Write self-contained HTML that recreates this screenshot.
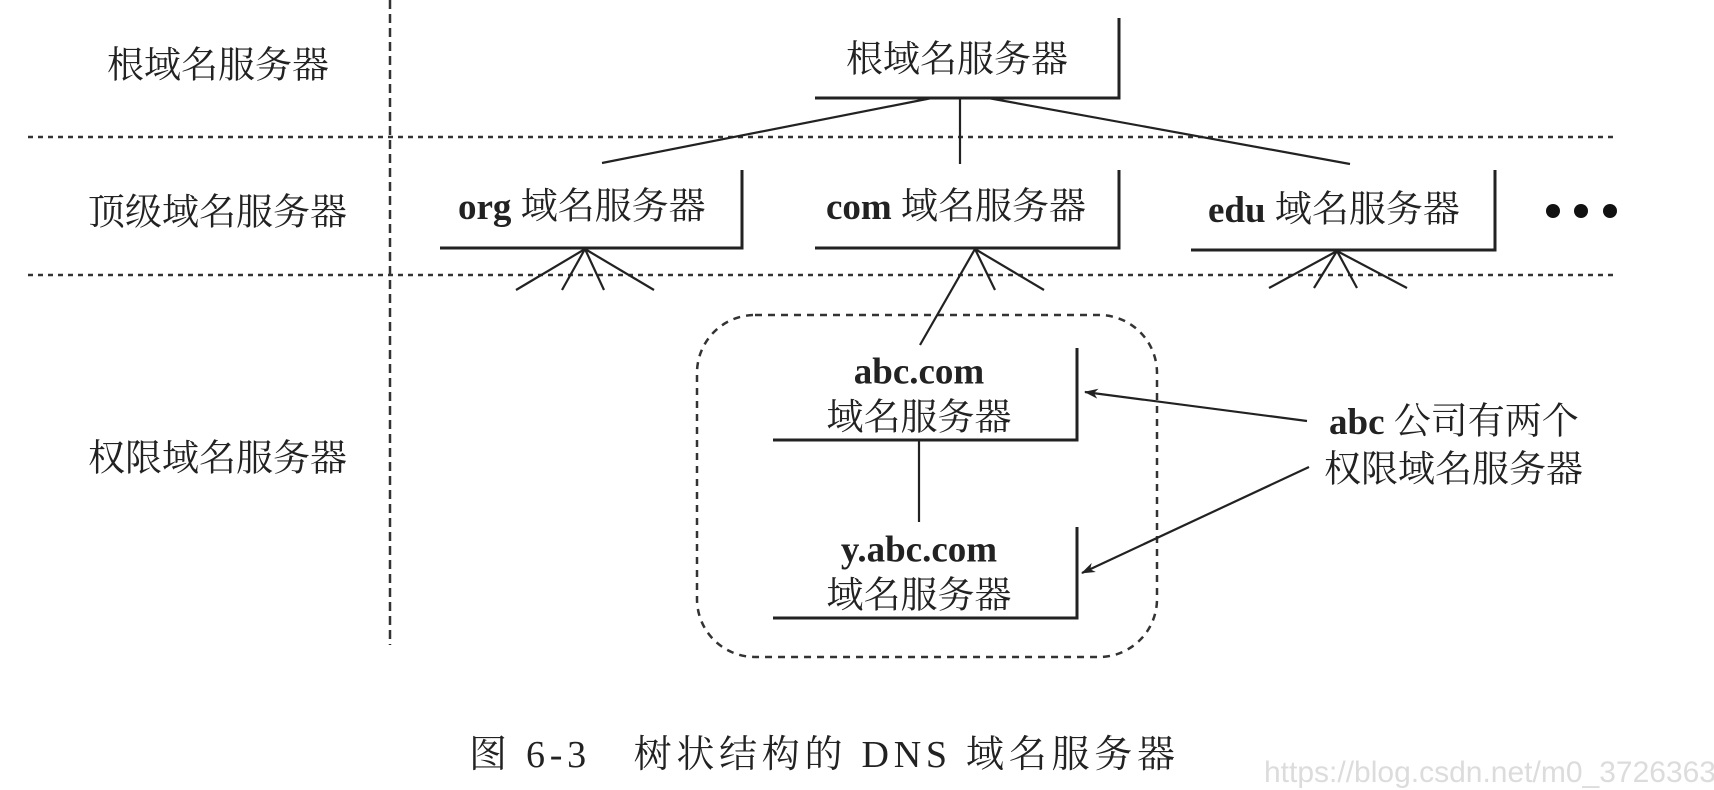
<!DOCTYPE html>
<html><head><meta charset="utf-8"><style>
html,body{margin:0;padding:0;background:#fff;}
svg{display:block;}
text{font-family:"Liberation Serif","Noto Serif CJK SC",serif;fill:#222;}
</style></head><body>
<svg width="1714" height="790" viewBox="0 0 1714 790" xmlns="http://www.w3.org/2000/svg">
<defs><marker id="ah" markerWidth="14" markerHeight="10" refX="13" refY="5" orient="auto" markerUnits="userSpaceOnUse"><path d="M0,0 L14,5 L0,10 L4,5 Z" fill="#222"/></marker></defs>
<g stroke="#333" stroke-width="2.5" stroke-dasharray="5,5" fill="none">
<line x1="390" y1="0" x2="390" y2="645" stroke-dasharray="9,5"/>
<line x1="28" y1="137" x2="1616" y2="137"/>
<line x1="28" y1="275" x2="1616" y2="275"/>
<rect x="697" y="315" width="460" height="342" rx="58" ry="58" stroke-dasharray="7,6"/>
</g>
<g stroke="#222" stroke-width="3" fill="none">
<polyline points="815,98 1119,98 1119,18"/>
<polyline points="440,248 742,248 742,170"/>
<polyline points="815,248 1119,248 1119,170"/>
<polyline points="1191,250 1495,250 1495,170"/>
<polyline points="773,440 1077,440 1077,348"/>
<polyline points="773,618 1077,618 1077,527"/>
</g>
<g stroke="#222" stroke-width="2.2" fill="none">
<line x1="932" y1="98" x2="602" y2="163"/>
<line x1="960" y1="98" x2="960" y2="164"/>
<line x1="988" y1="98" x2="1350" y2="164"/>
<line x1="585" y1="249" x2="516" y2="290"/><line x1="585" y1="249" x2="562" y2="290"/><line x1="585" y1="249" x2="604" y2="290"/><line x1="585" y1="249" x2="654" y2="290"/>
<line x1="975" y1="249" x2="920" y2="345"/><line x1="975" y1="249" x2="995" y2="290"/><line x1="975" y1="249" x2="1044" y2="290"/>
<line x1="1337" y1="251" x2="1269" y2="288"/><line x1="1337" y1="251" x2="1314" y2="288"/><line x1="1337" y1="251" x2="1357" y2="288"/><line x1="1337" y1="251" x2="1407" y2="288"/>
<line x1="919" y1="440" x2="919" y2="522"/>
<line x1="1307" y1="421" x2="1085" y2="392" marker-end="url(#ah)"/>
<line x1="1309" y1="467" x2="1082" y2="573" marker-end="url(#ah)"/>
</g>
<g fill="#111"><circle cx="1553" cy="211" r="7"/><circle cx="1581" cy="211" r="7"/><circle cx="1610" cy="211" r="7"/></g>
<g font-size="37" dominant-baseline="central">
<text x="107" y="66">根域名服务器</text>
<text x="88" y="213">顶级域名服务器</text>
<text x="88" y="459">权限域名服务器</text>
<text x="846" y="60">根域名服务器</text>
<text x="458" y="207"><tspan font-weight="bold">org</tspan> 域名服务器</text>
<text x="826" y="207"><tspan font-weight="bold">com</tspan> 域名服务器</text>
<text x="1208" y="210"><tspan font-weight="bold">edu</tspan> 域名服务器</text>
<text x="919" y="372" text-anchor="middle" font-weight="bold">abc.com</text>
<text x="919" y="418" text-anchor="middle">域名服务器</text>
<text x="919" y="550" text-anchor="middle" font-weight="bold">y.abc.com</text>
<text x="919" y="596" text-anchor="middle">域名服务器</text>
<text x="1329" y="422"><tspan font-weight="bold">abc</tspan> 公司有两个</text>
<text x="1324" y="470">权限域名服务器</text>
<text x="469" y="755" font-size="38" textLength="706">图 6-3　树状结构的 DNS 域名服务器</text>
</g>
<text x="1264" y="782" font-size="30" style="fill:#dcdcdc;font-family:'Liberation Sans',sans-serif">https://blog.csdn.net/m0_37263637</text>
</svg>
</body></html>
